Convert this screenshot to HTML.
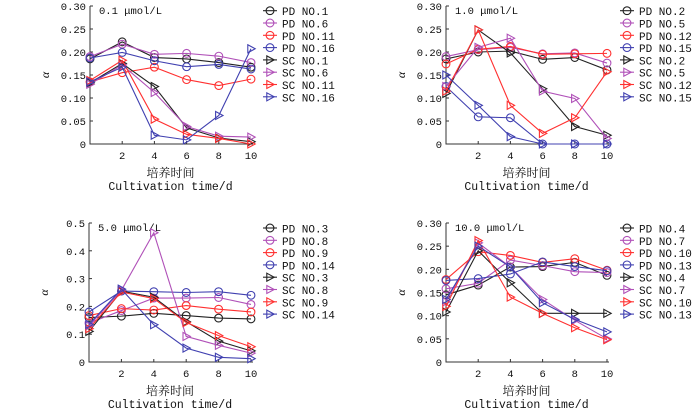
<!DOCTYPE html>
<html><head><meta charset="utf-8">
<style>
html,body{margin:0;padding:0;background:#fff;}
svg{display:block;font-family:"Liberation Mono","Noto Serif CJK SC",monospace;}
</style></head>
<body>
<svg id="chart" width="700" height="411" viewBox="0 0 700 411" xmlns="http://www.w3.org/2000/svg"></svg>
<script>
const xCats = [0, 2, 4, 6, 8, 10];
const xTickLabels = ["2", "4", "6", "8", "10"];
const colors = ["#222222", "#b050b8", "#ff3030", "#4040b0"];
// panel 1: 0.1 umol/L
const p1Titles = ["0.1 μmol/L"];
const p1Names = ["PD NO.1","PD NO.6","PD NO.11","PD NO.16","SC NO.1","SC NO.6","SC NO.11","SC NO.16"];
const p1Pd1 = [.185,.222,.188,.185,.177,.167];
const p1Pd6 = [.19,.217,.195,.197,.191,.177];
const p1Pd11 = [.135,.155,.167,.140,.127,.141];
const p1Pd16 = [.187,.199,.181,.168,.173,.163];
const p1Sc1 = [.133,.175,.125,.035,.013,.005];
const p1Sc6 = [.13,.172,.112,.038,.017,.015];
const p1Sc11 = [.138,.182,.054,.021,.012,0];
const p1Sc16 = [.135,.167,.019,.009,.062,.207];
const p1Ticks = ["0","0.05","0.10","0.15","0.20","0.25","0.30"];
const p1TickVals = [0,.05,.10,.15,.20,.25,.30];
// panel 2: 1.0 umol/L
const p2Names = ["PD NO.2","PD NO.5","PD NO.12","PD NO.15","SC NO.2","SC NO.5","SC NO.12","SC NO.15"];
const p2Pd2 = [.185,.20,.202,.184,.188,.161];
const p2Pd5 = [.19,.205,.21,.196,.198,.176];
const p2Pd12 = [.174,.206,.212,.195,.196,.197];
const p2Pd15 = [.125,.059,.057,0,0,0];
const p2Sc2 = [.11,.248,.198,.12,.038,.019];
const p2Sc5 = [.125,.21,.23,.115,.099,.012];
const p2Sc12 = [.115,.248,.084,.023,.057,.157];
const p2Sc15 = [.15,.084,.016,0,0,0];
// panel 3: 5.0 umol/L
const p3Names = ["PD NO.3","PD NO.8","PD NO.9","PD NO.14","SC NO.3","SC NO.8","SC NO.9","SC NO.14"];
const p3Pd3 = [.16,.165,.175,.167,.158,.155];
const p3Pd8 = [.14,.185,.23,.23,.232,.207];
const p3Pd9 = [.167,.192,.187,.203,.19,.18];
const p3Pd14 = [.18,.255,.253,.25,.253,.24];
const p3Sc3 = [.11,.255,.233,.145,.075,.04];
const p3Sc8 = [.13,.258,.465,.092,.06,.032];
const p3Sc9 = [.12,.252,.228,.142,.095,.055];
const p3Sc14 = [.135,.262,.134,.05,.017,.012];
const p3Ticks = ["0","0.1","0.2","0.3","0.4","0.5"];
const p3TickVals = [0,.1,.2,.3,.4,.5];
// panel 4: 10.0 umol/L
const p4Names = ["PD NO.4","PD NO.7","PD NO.10","PD NO.13","SC NO.4","SC NO.7","SC NO.10","SC NO.13"];
const p4Pd4 = [.145,.166,.205,.206,.215,.187];
const p4Pd7 = [.158,.17,.22,.208,.195,.193];
const p4Pd10 = [.178,.238,.23,.215,.223,.198];
const p4Pd13 = [.176,.18,.19,.216,.206,.197];
const p4Sc4 = [.108,.24,.171,.105,.105,.105];
const p4Sc7 = [.13,.257,.205,.135,.09,.05];
const p4Sc10 = [.12,.262,.14,.105,.074,.048];
const p4Sc13 = [.135,.25,.205,.128,.092,.065];

const NS = "http://www.w3.org/2000/svg";
const svg = document.getElementById("chart");
function mk(tag, attrs, parent) {
  const e = document.createElementNS(NS, tag);
  for (const k in attrs) e.setAttribute(k, attrs[k]);
  (parent || svg).appendChild(e);
  return e;
}
function marker(g, type, x, y, c) {
  if (type === "circle") {
    return mk("circle", {cx:x, cy:y, r:3.9, fill:"none", stroke:c, "stroke-width":1.1}, g);
  }
  return mk("polygon", {points:`${x-3.2},${y-4} ${x+4.2},${y} ${x-3.2},${y+4}`, fill:"none", stroke:c, "stroke-width":1.1}, g);
}
function panel(cfg) {
  const g = mk("g", {});
  
  
  const xs = v => cfg.x0 + (v/10)*(cfg.x10 - cfg.x0);
  const ys = v => cfg.yb - (v/cfg.ymax)*(cfg.yb - cfg.yt);
  const ax = mk("path", {d:`M${cfg.x0},${cfg.yt} V${cfg.yb} H${cfg.x10+2}`, fill:"none", stroke:"#333", "stroke-width":1}, g);
  
  
  cfg.tickVals.forEach((v,i) => {
    mk("line", {x1:cfg.x0, x2:cfg.x0+3, y1:ys(v), y2:ys(v), stroke:"#333"}, g);
    const t = mk("text", {x:cfg.x0-4, y:ys(v)+4, "text-anchor":"end", "font-size":10.5, fill:"#111"}, g);
    t.textContent = cfg.ticks[i];
    
    
  });
  xTickLabels.forEach((lab,i) => {
    const v = xCats[i+1];
    mk("line", {x1:xs(v), x2:xs(v), y1:cfg.yb, y2:cfg.yb-3, stroke:"#333"}, g);
    const t = mk("text", {x:xs(v), y:cfg.yb+15, "text-anchor":"middle", "font-size":10.5, fill:"#111"}, g);
    t.textContent = lab;
    
    
  });
  const cx = (cfg.x0+cfg.x10)/2;
  const t1 = mk("text", {x:cx, y:cfg.yb+33, "text-anchor":"middle", "font-size":12, fill:"#111", "font-family":"'Noto Serif CJK SC','Noto Sans CJK SC',serif"}, g);
  t1.textContent = "培养时间";
  
  
  const t2 = mk("text", {x:cx, y:cfg.yb+46, "text-anchor":"middle", "font-size":11.5, fill:"#111"}, g);
  t2.textContent = "Cultivation time/d";
  
  
  const ya = mk("text", {x:cfg.x0-41, y:(cfg.yt+cfg.yb)/2, "text-anchor":"middle", "font-size":12, "font-style":"italic", "font-family":"'Liberation Serif',serif", fill:"#111", transform:`rotate(-90 ${cfg.x0-41} ${(cfg.yt+cfg.yb)/2})`}, g);
  ya.textContent = "α";
  
  
  const tt = mk("text", {x:cfg.x0+9, y:cfg.yt+8, "font-size":10.5, fill:"#111"}, g);
  tt.textContent = cfg.title;
  
  
  cfg.series.forEach((s,i) => {
    const c = colors[i%4];
    const type = i < 4 ? "circle" : "tri";
    const sg = mk("g", {}, g);
    
    
    const pts = s.map((v,j) => `${xs(xCats[j])},${ys(v)}`).join(" ");
    mk("polyline", {points:pts, fill:"none", stroke:c, "stroke-width":1.1}, sg);
    s.forEach((v,j) => marker(sg, type, xs(xCats[j]), ys(v), c));
    const ly = cfg.ly + i*12.3;
    const lg = mk("g", {}, g);
    
    
    mk("line", {x1:cfg.lx, x2:cfg.lx+14, y1:ly, y2:ly, stroke:c, "stroke-width":1.1}, lg);
    marker(lg, type, cfg.lx+7, ly, c);
    const lt = mk("text", {x:cfg.lx+19, y:ly+4.5, "font-size":11, fill:"#111"}, lg);
    lt.textContent = cfg.names[i];
  });
}
panel({name:"panel-0-1", title:p1Titles[0], x0:90, x10:251, yt:6, yb:144, ymax:.30, ticks:p1Ticks, tickVals:p1TickVals,
  names:p1Names, series:[p1Pd1,p1Pd6,p1Pd11,p1Pd16,p1Sc1,p1Sc6,p1Sc11,p1Sc16], lx:263, ly:10.7});
panel({name:"panel-1-0", title:"1.0 μmol/L", x0:446, x10:607, yt:6, yb:144, ymax:.30, ticks:p1Ticks, tickVals:p1TickVals,
  names:p2Names, series:[p2Pd2,p2Pd5,p2Pd12,p2Pd15,p2Sc2,p2Sc5,p2Sc12,p2Sc15], lx:620, ly:10.7});
panel({name:"panel-5-0", title:"5.0 μmol/L", x0:89, x10:251, yt:223, yb:362, ymax:.5, ticks:p3Ticks, tickVals:p3TickVals,
  names:p3Names, series:[p3Pd3,p3Pd8,p3Pd9,p3Pd14,p3Sc3,p3Sc8,p3Sc9,p3Sc14], lx:263, ly:228});
panel({name:"panel-10-0", title:"10.0 μmol/L", x0:446, x10:607, yt:223, yb:362, ymax:.30, ticks:p1Ticks, tickVals:p1TickVals,
  names:p4Names, series:[p4Pd4,p4Pd7,p4Pd10,p4Pd13,p4Sc4,p4Sc7,p4Sc10,p4Sc13], lx:620, ly:228});
</script>
</body></html>
